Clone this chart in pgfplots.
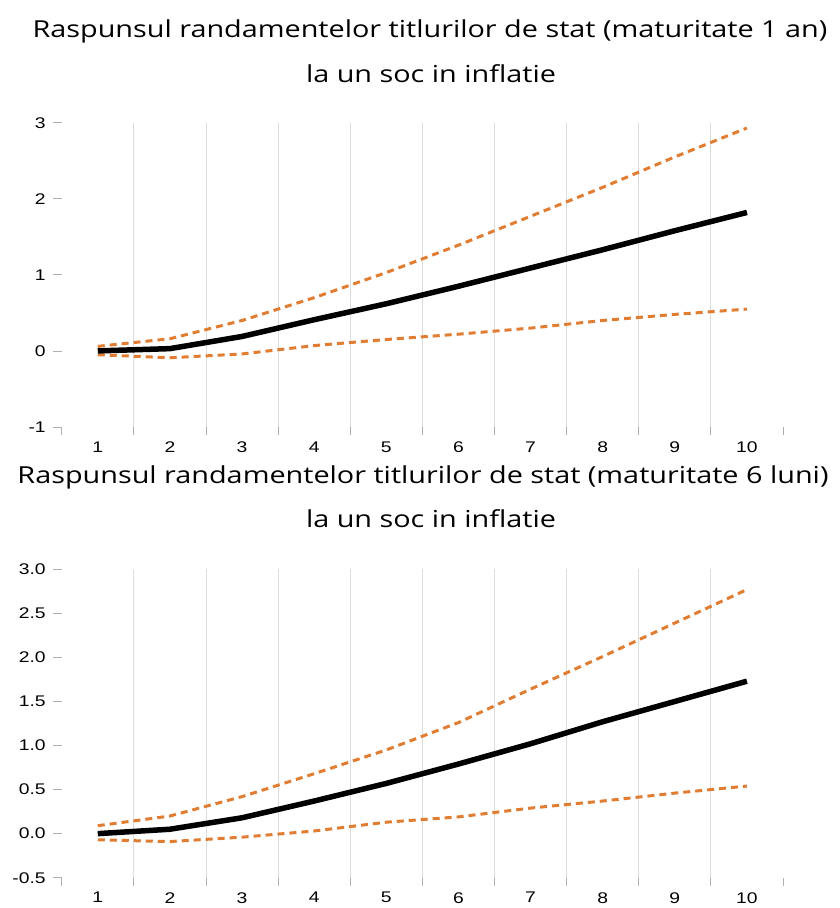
\documentclass[border=0pt]{standalone}
\usepackage{fontspec}
\setmainfont{Liberation Sans}[FakeStretch=1.25]
\newfontfamily\titlefont{Open Sans}[FakeStretch=1.23]
\usepackage{pgfplots}
\pgfplotsset{compat=1.18}

\definecolor{bandorange}{RGB}{225,125,50}
\definecolor{gridgray}{RGB}{220,220,220}
\definecolor{tickgray}{RGB}{175,175,175}

% impulse responses: central estimate and confidence band
\pgfplotstableread{
h   mid   lo     hi
1   0.00  -0.05  0.06
2   0.03  -0.09  0.16
3   0.19  -0.04  0.40
4   0.41   0.07  0.70
5   0.62   0.15  1.03
6   0.85   0.22  1.39
7   1.09   0.30  1.77
8   1.33   0.40  2.15
9   1.58   0.48  2.55
10  1.82   0.55  2.93
}\oneyear

\pgfplotstableread{
h   mid   lo     hi
1   0.00  -0.07  0.09
2   0.05  -0.09  0.20
3   0.18  -0.04  0.42
4   0.37   0.03  0.68
5   0.57   0.13  0.95
6   0.79   0.19  1.26
7   1.02   0.29  1.64
8   1.27   0.37  2.01
9   1.50   0.46  2.39
10  1.73   0.54  2.77
}\sixmonths

\pgfplotsset{
  irfpanel/.style={
    scale only axis,
    width=721.3bp,
    xmin=0.5, xmax=10.5,
    axis line style={draw=none},
    tick align=outside,
    xtick pos=bottom, ytick pos=left,
    major tick length=8.5bp,
    every tick/.style={tickgray, line width=0.8bp},
    xtick={0.5,1.5,...,10.5},
    xticklabels={},
    minor xtick={1.5,2.5,...,9.5},
    minor tick length=0pt,
    xminorgrids,
    minor x grid style={gridgray, line width=0.9bp},
    extra x ticks={1,...,10},
    extra x tick labels={1,2,3,4,5,6,7,8,9,10},
    extra x tick style={major tick length=0pt, grid=none},
    xticklabel style={font=\fontsize{15.5}{18}\selectfont, yshift=-11bp},
    yticklabel style={font=\fontsize{15.5}{18}\selectfont, xshift=-4bp},
    /pgf/number format/assume math mode=true,
    clip=false,
  },
  midline/.style={black, line width=5.5bp},
  bandline/.style={bandorange, line width=3bp, dash pattern=on 7bp off 5bp},
}

\begin{document}
\begin{tikzpicture}
\path[use as bounding box] (0,0) rectangle (840bp,908bp);

% titles
\node[font=\titlefont\fontsize{23.5}{28}\selectfont] at (430bp,877bp)
  {Raspunsul randamentelor titlurilor de stat (maturitate 1 an)};
\node[font=\titlefont\fontsize{23.5}{28}\selectfont] at (431bp,834bp)
  {la un soc in inflatie};
\node[font=\titlefont\fontsize{23.5}{28}\selectfont] at (423bp,431bp)
  {Raspunsul randamentelor titlurilor de stat (maturitate 6 luni)};
\node[font=\titlefont\fontsize{23.5}{28}\selectfont] at (431bp,389bp)
  {la un soc in inflatie};

% maturity 1 year
\begin{axis}[irfpanel,
  at={(61.7bp,481bp)}, anchor=south west,
  height=304.3bp,
  ymin=-1, ymax=3,
  ytick={-1,0,1,2,3},
]
\addplot[bandline] table[x=h, y=hi] {\oneyear};
\addplot[bandline] table[x=h, y=lo] {\oneyear};
\addplot[midline] table[x=h, y=mid] {\oneyear};
\end{axis}

% maturity 6 months
\begin{axis}[irfpanel,
  at={(61.7bp,30.3bp)}, anchor=south west,
  height=308.4bp,
  ymin=-0.5, ymax=3,
  ytick={-0.5,0,...,3},
  yticklabel style={/pgf/number format/.cd, fixed, fixed zerofill, precision=1},
]
\addplot[bandline] table[x=h, y=hi] {\sixmonths};
\addplot[bandline] table[x=h, y=lo] {\sixmonths};
\addplot[midline] table[x=h, y=mid] {\sixmonths};
\end{axis}
\end{tikzpicture}
\end{document}
